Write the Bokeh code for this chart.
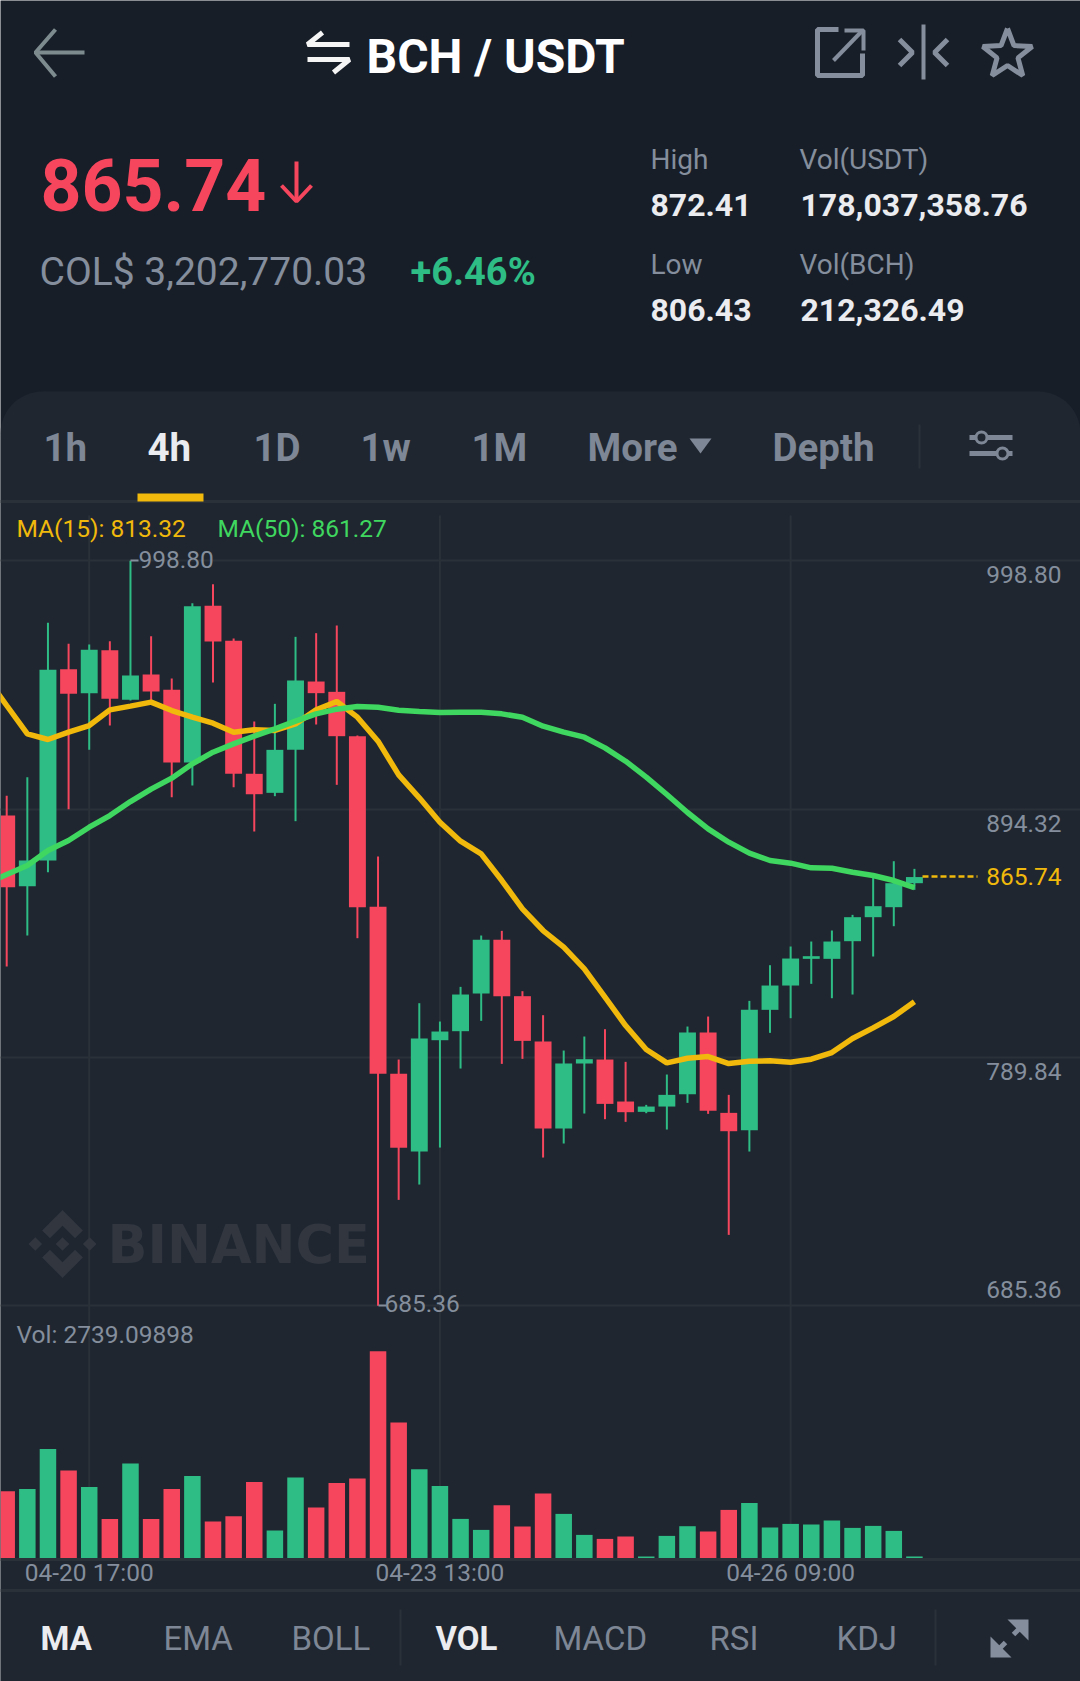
import numpy as np
from bokeh.plotting import figure
from bokeh.models import (Label, Range1d, LinearAxis, FixedTicker, Grid)
from bokeh.embed import file_html
from bokeh.resources import INLINE

# ---------- data ----------
opens = [891.63,861.90,872.70,953.20,943.11,961.20,940.30,950.96,944.51,913.93,979.85,965.12,909.16,901.17,919.26,
         948.01,943.67,925.01,853.21,782.94,750.26,797.10,800.89,816.74,839.32,815.62,796.54,759.94,787.29,788.97,
         771.30,766.95,769.19,774.38,800.33,766.53,759.24,809.87,820.10,831.33,831.33,838.76,848.86,853.06,863.16]
closes = [861.48,872.70,952.92,942.82,961.34,940.72,950.54,943.81,913.93,979.71,964.84,909.16,900.61,919.26,948.43,
          943.11,925.01,853.06,782.94,751.80,797.80,800.75,816.32,839.32,815.62,796.82,759.94,787.29,789.11,770.31,
          766.81,769.19,774.10,800.33,767.37,758.81,809.87,820.10,831.46,832.45,838.62,848.86,853.49,863.16,865.74]
highs = [899.91,907.76,972.70,963.86,963.58,964.98,998.80,967.09,949.28,980.97,988.97,966.11,931.18,938.62,966.81,
         968.35,971.58,925.30,874.38,788.97,812.67,804.96,819.54,841.14,843.11,817.72,807.62,792.75,798.65,801.73,
         787.99,769.89,782.66,802.85,807.06,774.10,813.65,828.66,836.52,838.62,843.25,849.84,867.37,872.41,869.19]
lows = [828.10,841.14,867.79,894.30,919.26,929.50,940.02,939.32,899.35,904.26,947.59,903.55,884.90,899.77,889.25,
        929.92,904.54,840.02,685.36,729.92,736.37,751.94,785.18,805.24,787.14,789.25,747.73,753.63,766.25,763.86,
        762.74,766.39,759.52,770.74,766.11,715.20,750.26,800.19,806.36,820.81,814.77,816.32,832.31,845.07,860.36]
volumes = [68000,70300,110300,88700,72300,40300,95700,40300,70300,83300,37700,43000,77300,28700,81700,
           51700,76300,80700,208000,136700,90000,73300,40300,29300,54000,32700,65700,45300,24300,20300,
           22700,2700,23300,33000,27700,49300,56300,31700,35300,34700,38700,31300,33300,28300,2739.09898]
ma15_x = list(range(-1, 45))
ma15 = [949.98,937.92,925.99,923.61,926.70,929.50,936.09,937.64,939.32,935.81,933.01,930.48,926.70,927.68,927.40,930.20,
        936.09,939.60,933.01,922.91,908.74,899.07,888.83,880.83,875.50,864.28,852.36,843.25,836.23,827.12,815.20,
        803.27,793.18,787.57,789.53,790.23,787.29,788.27,788.41,787.85,789.11,791.91,797.80,802.29,807.06,813.32]
ma50 = [862.88,866.81,870.60,876.91,881.11,886.72,891.63,897.52,902.71,907.34,913.37,918.28,921.79,925.01,928.10,931.32,
        934.41,936.37,937.50,937.21,935.95,935.39,934.97,935.11,935.11,934.41,933.01,929.22,926.70,924.59,920.10,
        914.49,907.76,900.47,892.90,886.02,880.41,875.79,872.70,871.58,869.61,869.47,867.79,866.39,864.28,861.27]
price_ticks = [998.80, 894.32, 789.84, 685.36]
time_ticks = [4, 21, 38]
time_labels = ["04-20 17:00", "04-23 13:00", "04-26 09:00"]

# ---------- page geometry ----------
W, H = 1080, 1681
BG, PANEL, GRID = "#181E28", "#1F2630", "#2B3139"
GREEN, RED, YEL, MAG = "#2EBD85", "#F6465D", "#F0B90B", "#3FD75F"
GRAY, WHITE = "#848E9C", "#EAECEF"

STEP, X0 = 20.63, 6.2                 # px per candle, px of candle 0
PX_PRICE, Y998 = 104.48 / 248.33, 560.3
BASE, VOL_PX = 1558.7, 1000.0

X = lambda px: (np.asarray(px, float) - X0) / STEP
Y = lambda py: 998.80 - (np.asarray(py, float) - Y998) * PX_PRICE

p = figure(width=W, height=H, output_backend="svg", toolbar_location=None,
           x_range=Range1d(float(X(0)), float(X(W))),
           y_range=Range1d(float(Y(H)), float(Y(0))),
           x_axis_type=None, y_axis_type=None,
           min_border=0, min_border_left=0, min_border_right=0, min_border_top=0, min_border_bottom=0,
           background_fill_color=BG, border_fill_color=BG, outline_line_alpha=0)
p.extra_y_ranges["vol"] = Range1d((BASE - H) * VOL_PX, BASE * VOL_PX)


def T(px, py, text, size, color, bold=False, align="left", font="Roboto"):
    p.add_layout(Label(x=px - 1, y=H - py, x_units="screen", y_units="screen", text=text,
                       text_font=font, text_font_size=f"{size}px", text_color=color,
                       text_font_style="bold" if bold else "normal",
                       text_align=align, text_baseline="middle"))


def L(points, color=GRAY, width=5, **kw):
    xs, ys = zip(*points)
    p.line(X(xs), Y(ys), line_color=color, line_width=width, **kw)


def F(points, color):
    xs, ys = zip(*points)
    p.patch(X(xs), Y(ys), fill_color=color, line_alpha=0)


# ---------- panel under everything ----------
R = 42
t = np.linspace(0, np.pi / 2, 16)
px_ = np.r_[0, R - R * np.cos(t), W - R + R * np.sin(t), W]
py_ = np.r_[H, 391 + R - R * np.sin(t), 391 + R - R * np.cos(t), H]
p.patch(X(px_), Y(py_), fill_color=PANEL, line_alpha=0, level="image")

# ---------- grid and axis ----------
p.add_layout(Grid(dimension=1, ticker=FixedTicker(ticks=price_ticks), grid_line_color=GRID, grid_line_width=2))
p.segment(time_ticks, float(Y(515)), time_ticks, float(Y(BASE)), line_color=GRID, line_width=2)
for yy in (501, 1590):
    L([(0, yy), (W, yy)], GRID, 3)

axis = LinearAxis(y_range_name="vol", fixed_location=0, ticker=FixedTicker(ticks=time_ticks),
                  major_label_overrides=dict(zip(time_ticks, time_labels)),
                  major_tick_line_alpha=0, minor_tick_line_alpha=0, axis_line_color=GRID, axis_line_width=3,
                  major_label_text_color=GRAY, major_label_text_font="Roboto",
                  major_label_text_font_size="24.5px", major_label_standoff=-7)
p.add_layout(axis, "below")

# ---------- watermark ----------
MK = "#31363F"
cx, cy, r = 62, 1243.5, 34
for dx, dy in ((0, 0), (-.8, 0), (.8, 0)):
    F([(cx + (dx + a) * r, cy + (dy + b) * r) for a, b in ((-.2, 0), (0, -.2), (.2, 0), (0, .2))], MK)
for s in (1, -1):
    F([(cx + a * r, cy - s * b * r) for a, b in ((0, 1), (.6, .4), (.37, .17), (0, .54), (-.37, .17), (-.6, .4))], MK)
T(108, 1244, "BINANCE", 52.5, MK, True, font="DejaVu Sans")

# ---------- candles ----------
idx = np.arange(len(opens))
up = np.array(closes) >= np.array(opens)
cols = [GREEN if u else RED for u in up]
tops = np.maximum(opens, closes)
bots = np.minimum(opens, closes)
p.segment(idx, highs, idx, lows, line_color=cols, line_width=2)
p.vbar(x=idx, top=tops, bottom=bots, width=0.82, fill_color=cols, line_alpha=0)
p.vbar(x=idx, top=volumes, bottom=0, width=0.80, fill_color=cols, line_alpha=0, y_range_name="vol")

p.line(ma15_x, ma15, line_color=YEL, line_width=5.5)
p.line(ma15_x, ma50, line_color=MAG, line_width=5.5)

# ---------- chart labels ----------
for py, v in zip((573.7, 822.7, 1070.7, 1289), price_ticks):
    T(1062, py, f"{v:.2f}", 24.5, GRAY, align="right")
T(1062, 876, "865.74", 24.5, YEL, align="right")
L([(922, 876), (977, 876)], YEL, 2.5, line_dash="6 3")
T(17, 528, "MA(15): 813.32", 24.5, YEL)
T(218, 528, "MA(50): 861.27", 24.5, MAG)
T(17, 1334, "Vol: 2739.09898", 24.5, GRAY)
L([(130, 560), (138, 560)], GRAY, 2)
T(139, 559, "998.80", 24.5, GRAY)
L([(378, 1305), (386, 1305)], GRAY, 2)
T(385, 1303, "685.36", 24.5, GRAY)

# ---------- header ----------
T(367, 56, "BCH / USDT", 48, "#FFFFFF", True)
T(41, 184, "865.74", 71.5, RED, True)
T(40, 271, "COL$ 3,202,770.03", 39, GRAY)
T(411, 271, "+6.46%", 38, GREEN, True)
T(651, 159, "High", 28, GRAY)
T(800, 159, "Vol(USDT)", 28, GRAY)
T(651, 204, "872.41", 32, WHITE, True)
T(801, 204, "178,037,358.76", 32, WHITE, True)
T(651, 264, "Low", 28, GRAY)
T(800, 264, "Vol(BCH)", 28, GRAY)
T(651, 309, "806.43", 32, WHITE, True)
T(801, 309, "212,326.49", 32, WHITE, True)

BACK = "#7D8B8F"
L([(84, 52), (36, 52)], BACK, 4)
L([(55, 29), (35, 52), (55, 76)], BACK, 4)
L([(349, 44), (307, 44), (322, 32)], "#F5F5F5", 5)
L([(307, 59), (349, 59), (333, 72)], "#F5F5F5", 5)
L([(838, 29), (817, 29), (817, 75), (862, 75), (862, 53)], GRAY, 5)
L([(833, 60), (862, 30)], GRAY, 4)
L([(844, 30), (863, 30), (863, 50)], GRAY, 4)
L([(923, 24), (923, 79)], GRAY, 4)
L([(899, 39), (912, 52), (899, 65)], GRAY, 5)
L([(947, 39), (934, 52), (947, 65)], GRAY, 5)
ang = np.pi / 2 + np.arange(11) * np.pi / 5
rad = np.where(np.arange(11) % 2 == 0, 26, 11)
L(list(zip(1007 + rad * np.cos(ang), 54 - rad * np.sin(ang))), GRAY, 5)
L([(296, 161), (296, 201)], RED, 4)
L([(281, 185), (296, 201), (311, 185)], RED, 4)

# ---------- tabs ----------
DIM = "#7E8795"
for x_, s_, c_ in ((44, "1h", DIM), (148, "4h", WHITE), (254, "1D", DIM), (361, "1w", DIM),
                   (472, "1M", DIM), (588, "More", DIM), (773, "Depth", DIM)):
    T(x_, 447, s_, 38.5, c_, True)
F([(689, 438), (711, 438), (700, 453)], DIM)
L([(919, 424), (919, 468)], GRID, 2)
L([(137, 497), (203, 497)], YEL, 8)
L([(969, 437), (1012, 437)], DIM, 5)
L([(969, 453), (1012, 453)], DIM, 5)
p.scatter(X([981, 1002]), Y([437, 453]), size=11, fill_color=PANEL, line_color=DIM, line_width=3)

# ---------- footer ----------
for x_, s_, c_, b_ in ((41, "MA", WHITE, True), (164, "EMA", DIM, False), (292, "BOLL", DIM, False),
                       (436, "VOL", WHITE, True), (554, "MACD", DIM, False), (710, "RSI", DIM, False),
                       (837, "KDJ", DIM, False)):
    T(x_, 1638, s_, 33, c_, b_)
L([(400, 1609), (400, 1665)], GRID, 2)
L([(935, 1609), (935, 1665)], GRID, 2)
L([(1026, 1621), (1013, 1634)], GRAY, 5)
L([(1005, 1642), (992, 1655)], GRAY, 5)
F([(1028, 1619), (1028, 1640), (1007, 1619)], GRAY)
F([(990, 1657), (990, 1636), (1011, 1657)], GRAY)

open("out.html", "w").write(file_html(p, INLINE))
